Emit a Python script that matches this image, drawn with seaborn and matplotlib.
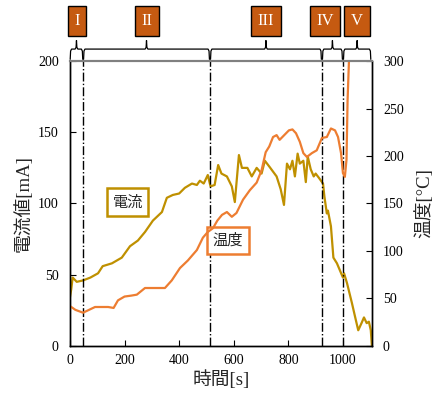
import numpy as np
import pandas as pd
import matplotlib
matplotlib.use('Agg')
import matplotlib.pyplot as plt
import matplotlib.transforms as mtransforms
import seaborn as sns

# data
t_cur = [0, 5, 10, 25, 48, 75, 103, 120, 154, 190, 220, 249, 275, 304, 337,
         355, 377, 400, 421, 447, 465, 476, 490, 505, 515, 530, 543, 555, 575, 593,
         604, 619, 630, 650, 666, 684, 702, 714, 730, 757, 772, 784, 795, 806, 815,
         824, 834, 842, 855, 864, 871, 882, 893, 900, 912, 927, 932, 941, 945, 956,
         965, 978, 989, 1000, 1004, 1015, 1033, 1045, 1056, 1068, 1077, 1087, 1095, 1102, 1106]
current = [34, 40, 48, 45, 46, 48, 51, 56, 58, 62, 70, 74, 80, 88, 94,
           104, 106, 107, 111, 114, 113, 116, 114, 120, 112, 113, 127, 121, 119, 112,
           101, 134, 125, 125, 119, 125, 121, 130, 126, 119, 110, 99, 128, 124, 130,
           119, 135, 128, 130, 115, 133, 124, 119, 121, 118, 114, 105, 93, 95, 84,
           62, 58, 53, 48, 51, 44, 30, 20, 11, 16, 20, 16, 17, 11, 0]

t_tmp = [0, 20, 48, 70, 92, 120, 140, 160, 176, 200, 225, 245, 275, 310, 348,
         373, 403, 432, 465, 487, 505, 524, 540, 557, 575, 593, 610, 634, 659, 684,
         702, 717, 730, 744, 757, 768, 785, 802, 815, 828, 842, 855, 868, 886, 904,
         923, 941, 956, 971, 982, 993, 1000, 1007, 1013, 1017, 1022, 1026]
temp = [42, 38, 35, 38, 41, 41, 41, 40, 48, 52, 53, 54, 61, 61, 61,
        69, 82, 90, 101, 114, 120, 124, 132, 138, 141, 136, 140, 154, 164, 172,
        185, 204, 210, 220, 222, 217, 222, 227, 228, 224, 215, 203, 199, 203, 206,
        219, 220, 229, 227, 220, 203, 182, 178, 196, 259, 300, 320]

phase_bounds = [48, 513, 923, 1000]
phase_spans = [(1, 47), (50, 511), (515, 921), (925, 998), (1002, 1102)]
phase_names = ['I', 'II', 'III', 'IV', 'V']
phase_box_x = [26, 282, 718, 934, 1051]

gold = '#BF9000'
orange = '#ED7D31'
box_fill = '#C55A11'

sns.set_style('ticks')
plt.rcParams['font.family'] = ['Liberation Serif', 'Noto Sans CJK JP']
plt.rcParams['axes.unicode_minus'] = False

fig = plt.figure(figsize=(4.37, 3.99), dpi=100)
ax = fig.add_axes([0.160, 0.133, 0.691, 0.714])
ax2 = ax.twinx()

cur_df = pd.DataFrame({'t': t_cur, 'current': current})
tmp_df = pd.DataFrame({'t': t_tmp, 'temp': temp})
sns.lineplot(data=cur_df, x='t', y='current', ax=ax, color=gold, lw=1.6)
sns.lineplot(data=tmp_df, x='t', y='temp', ax=ax2, color=orange, lw=1.6)

ax.set_xlim(0, 1106)
ax.set_ylim(0, 200)
ax2.set_ylim(0, 300)
ax.set_xticks([0, 200, 400, 600, 800, 1000])
ax.set_yticks([0, 50, 100, 150, 200])
ax2.set_yticks([0, 50, 100, 150, 200, 250, 300])

for a in (ax, ax2):
    a.tick_params(direction='in', labelsize=10, length=4, width=0.8, colors='black')
    for s in a.spines.values():
        s.set_color('black')
        s.set_linewidth(1.0)
    a.spines['top'].set_color('#808080')
    a.spines['top'].set_linewidth(1.5)
ax.tick_params(axis='x', pad=6)
ax.tick_params(axis='y', pad=8)
ax2.tick_params(axis='y', pad=8)

ax.set_xlabel('時間[s]', fontsize=13.5, labelpad=2)
ax.set_ylabel('電流値[mA]', fontsize=13.5, labelpad=4)
ax2.set_ylabel('温度[°C]', fontsize=13.5, labelpad=8)

for xb in phase_bounds:
    ax.axvline(xb, color='black', ls='-.', lw=1.0)

# braces and phase boxes above the plot
trans = mtransforms.blended_transform_factory(ax.transData, ax.transAxes)
for (x0, x1), name, bxc in zip(phase_spans, phase_names, phase_box_x):
    xc = (x0 + x1) / 2
    d = 5
    bx = [x0, x0 + d * 0.3, x0 + d, xc - d, xc - d * 0.3, xc, xc + d * 0.3, xc + d,
          x1 - d, x1 - d * 0.3, x1]
    by = [1.006, 1.035, 1.042, 1.042, 1.048, 1.072, 1.048, 1.042, 1.042, 1.035, 1.006]
    ax.plot(bx, by, color='black', lw=0.9, transform=trans, clip_on=False)
    ax.text(bxc, 1.14, name, transform=trans, ha='center', va='center',
            color='white', fontsize=12, family='Liberation Serif',
            bbox=dict(boxstyle='square,pad=0.4', fc=box_fill, ec='black', lw=1.0))

# series labels
ax.text(212, 101, '電流', ha='center', va='center', fontsize=11,
        family=['Noto Sans CJK JP'],
        bbox=dict(boxstyle='square,pad=0.35', fc='white', ec=gold, lw=1.8))
ax.text(579, 74, '温度', ha='center', va='center', fontsize=11,
        family=['Noto Sans CJK JP'],
        bbox=dict(boxstyle='square,pad=0.35', fc='white', ec=orange, lw=1.8))

fig.savefig('out.png', dpi=100)
